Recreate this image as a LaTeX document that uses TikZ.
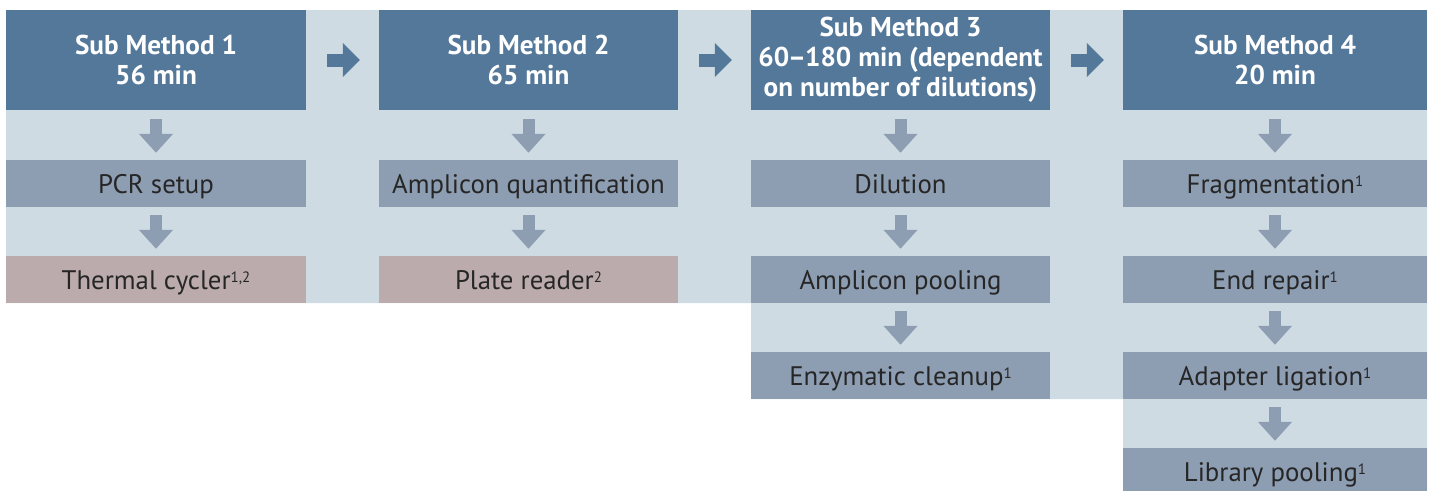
\documentclass[tikz,border=0pt]{standalone}
\usepackage{fontspec}
\setmainfont{PT Sans}
\usetikzlibrary{arrows.meta}
\definecolor{hdr}{HTML}{54789A}
\definecolor{bgc}{HTML}{CFDBE3}
\definecolor{stp}{HTML}{8D9DB2}
\definecolor{pnk}{HTML}{BBABAD}
\definecolor{txt}{HTML}{262626}
\newcommand\supx[1]{\raisebox{6.5pt}{\fontsize{15}{15}\selectfont #1}}
\begin{document}
\begin{tikzpicture}[x=1pt,y=-1pt,
  hbox/.style={fill=hdr, text=white, font=\fontsize{27.2}{30}\selectfont\bfseries, align=center, inner sep=0pt, minimum height=100pt},
  sbox/.style={fill=stp, text=txt, font=\fontsize{26.8}{28}\selectfont, inner sep=0pt, minimum height=47pt, text height=21pt, text depth=2pt},
  pbox/.style={sbox, fill=pnk},
  darr/.style={draw=stp, line width=12pt, -{Triangle[width=33pt,length=19pt]}},
  rarr/.style={draw=hdr, line width=13pt, -{Triangle[width=33pt,length=17pt]}}]
\useasboundingbox (0,0) rectangle (1432,490);
\fill[bgc] (6,10) -- (1427,10) -- (1427,490) -- (1123,490) -- (1123,399) -- (751,399) -- (751,303) -- (6,303) -- cycle;
% column 1
\node[hbox, minimum width=300pt] (h1) at (156,60) {Sub Method 1\\56 min};
\node[sbox, minimum width=300pt] (a1) at (156,183.5) {PCR setup};
\node[pbox, minimum width=300pt] (b1) at (156,279.5) {Thermal cycler\supx{1,2}};
% column 2
\node[hbox, minimum width=299pt] (h2) at (528.5,60) {Sub Method 2\\65 min};
\node[sbox, minimum width=299pt] (a2) at (528.5,183.5) {Amplicon quantification};
\node[pbox, minimum width=299pt] (b2) at (528.5,279.5) {Plate reader\supx{2}};
% column 3
\node[hbox, minimum width=299pt] (h3) at (900.5,60) {Sub Method 3\\60\kern-1pt–\kern-1pt180 min (dependent\\on number of dilutions)};
\node[sbox, minimum width=299pt] (a3) at (900.5,183.5) {Dilution};
\node[sbox, minimum width=299pt] (b3) at (900.5,279.5) {Amplicon pooling};
\node[sbox, minimum width=299pt] (c3) at (900.5,375.5) {Enzymatic cleanup\supx{1}};
% column 4
\node[hbox, minimum width=304pt] (h4) at (1275,60) {Sub Method 4\\20 min};
\node[sbox, minimum width=304pt] (a4) at (1275,183.5) {Fragmentation\supx{1}};
\node[sbox, minimum width=304pt] (b4) at (1275,279.5) {End repair\supx{1}};
\node[sbox, minimum width=304pt] (c4) at (1275,375.5) {Adapter ligation\supx{1}};
\node[sbox, minimum width=304pt] (d4) at (1275,471.5) {Library pooling\supx{1}};
% right arrows
\draw[rarr] ([xshift=21pt]h1.east) -- ([xshift=-19pt]h2.west);
\draw[rarr] ([xshift=21pt]h2.east) -- ([xshift=-19pt]h3.west);
\draw[rarr] ([xshift=21pt]h3.east) -- ([xshift=-19pt]h4.west);
% down arrows
\foreach \c in {1,2,3,4} {
  \draw[darr] ([yshift=-9pt]h\c.south) -- ([yshift=7pt]a\c.north);
}
\draw[darr] ([yshift=-8pt]a1.south) -- ([yshift=7pt]b1.north);
\draw[darr] ([yshift=-8pt]a2.south) -- ([yshift=7pt]b2.north);
\draw[darr] ([yshift=-8pt]a3.south) -- ([yshift=7pt]b3.north);
\draw[darr] ([yshift=-8pt]b3.south) -- ([yshift=7pt]c3.north);
\draw[darr] ([yshift=-8pt]a4.south) -- ([yshift=7pt]b4.north);
\draw[darr] ([yshift=-8pt]b4.south) -- ([yshift=7pt]c4.north);
\draw[darr] ([yshift=-8pt]c4.south) -- ([yshift=7pt]d4.north);
\end{tikzpicture}
\end{document}
